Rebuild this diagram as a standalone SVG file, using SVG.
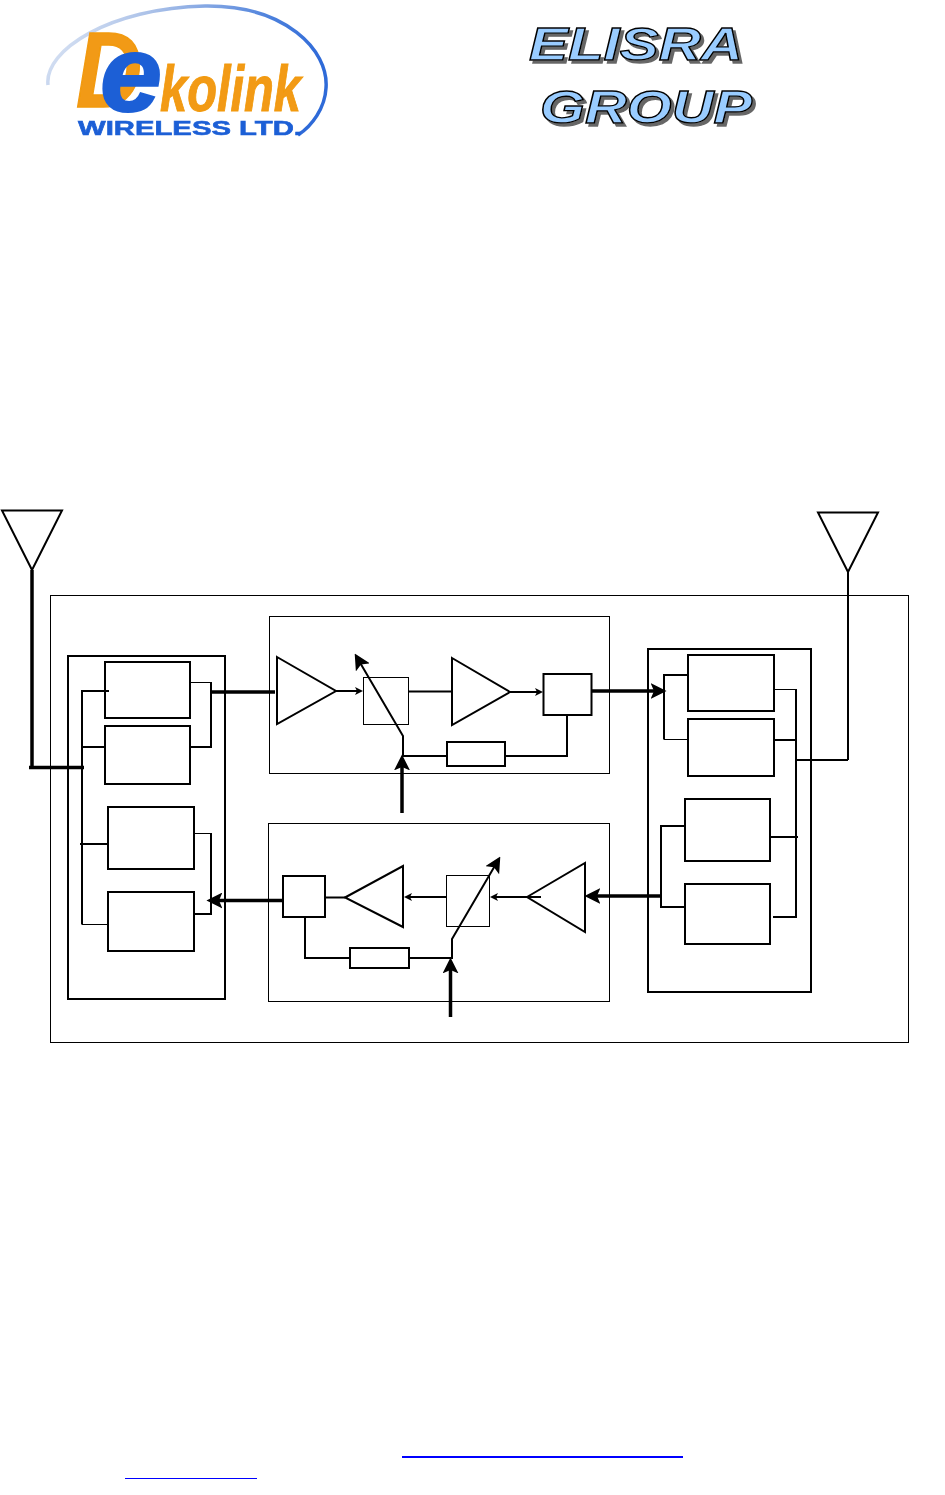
<svg xmlns="http://www.w3.org/2000/svg" width="945" height="1495" viewBox="0 0 945 1495">
<style>
.b1{fill:none;stroke:#000;stroke-width:1}
.b2{fill:none;stroke:#000;stroke-width:2}
.tri{fill:none;stroke:#000;stroke-width:2;stroke-linejoin:miter}
#connectors path{fill:none;stroke:#000;stroke-width:2}
#connectors .thin{stroke-width:1}
#connectors .thick{stroke-width:3.5}
.el{font-family:"Liberation Sans",Arial,sans-serif;font-weight:bold;font-style:italic;fill:#99ccff;stroke:#000;stroke-width:1.3;filter:url(#shadow)}
.dk{font-family:"Liberation Sans",Arial,sans-serif;font-weight:bold}
.or{fill:#f29a12;stroke:#f29a12}
.bl{fill:#1c5fd6;stroke:#1c5fd6}
.link{stroke:#0000ff;fill:none}
</style>
<defs>
<marker id="big" markerUnits="userSpaceOnUse" markerWidth="16" markerHeight="16" refX="10" refY="7" orient="auto" viewBox="0 0 14 14"><path d="M0,0 L14,7 L0,14 L3,7 Z" fill="#000"/></marker>
<marker id="small" markerUnits="userSpaceOnUse" markerWidth="8" markerHeight="8" refX="5" refY="4" orient="auto" viewBox="0 0 8 8"><path d="M0,0 L8,4 L0,8 L2,4 Z" fill="#000"/></marker>
<filter id="shadow" x="-10%" y="-20%" width="120%" height="150%"><feDropShadow dx="3" dy="3" stdDeviation="0.5" flood-color="#666"/></filter>
<filter id="soft" x="-5%" y="-5%" width="110%" height="110%"><feGaussianBlur stdDeviation="0.5"/></filter>
<linearGradient id="swoosh" x1="0" y1="0" x2="1" y2="0.35"><stop offset="0" stop-color="#eef2f8"/><stop offset="0.35" stop-color="#a9c0e8"/><stop offset="0.75" stop-color="#4a7fdc"/><stop offset="1" stop-color="#2f6ad8"/></linearGradient>
</defs>
<rect width="945" height="1495" fill="#fff"/>

<g id="logo-dekolink" filter="url(#soft)">
<path d="M48,85 C44,50 110,8 205,6 C285,5 329,50 326,88 C325,108 312,126 298,135" fill="none" stroke="url(#swoosh)" stroke-width="3.5"/>
<text class="dk or" x="76" y="107" font-size="107" font-style="italic" stroke-width="1.5" textLength="66" lengthAdjust="spacingAndGlyphs">D</text>
<text class="dk bl" x="100" y="111" font-size="108" font-style="italic" stroke-width="2" textLength="62" lengthAdjust="spacingAndGlyphs">e</text>
<text class="dk or" x="160" y="111" font-size="64" font-style="italic" stroke-width="1" textLength="141" lengthAdjust="spacingAndGlyphs">kolink</text>
<text class="dk bl" x="78" y="135" font-size="21" stroke-width="0.6" textLength="224" lengthAdjust="spacingAndGlyphs">WIRELESS LTD.</text>
</g>

<g id="logo-elisra">
<text class="el" x="529" y="60" font-size="47" textLength="214" lengthAdjust="spacingAndGlyphs">ELISRA</text>
<text class="el" x="540" y="123" font-size="47" textLength="212" lengthAdjust="spacingAndGlyphs">GROUP</text>
</g>

<rect id="enclosure" class="b1" x="50.5" y="595.5" width="858" height="447"/>

<g id="antenna-left"><path class="tri" d="M2,510.5 H62 L32,570 Z"/></g>
<g id="antenna-right"><path class="tri" d="M818,512.5 H878 L848,572 Z"/></g>

<g id="left-module">
<rect class="b2" x="68" y="656" width="157" height="343"/>
<rect class="b2" x="105" y="662" width="85" height="56"/>
<rect class="b2" x="105" y="726" width="85" height="58"/>
<rect class="b2" x="108" y="807" width="86" height="62"/>
<rect class="b2" x="108" y="892" width="86" height="59"/>
</g>

<g id="uplink-chain">
<rect class="b1" x="269.5" y="616.5" width="340" height="157"/>
<path class="tri" d="M277,657 L336,691 L277,724 Z"/>
<rect class="b1" x="363.5" y="677.5" width="45" height="47"/>
<path class="tri" d="M452,658 L510,692 L452,725 Z"/>
<rect class="b2" x="543.5" y="674" width="48" height="41"/>
<rect class="b2" x="447" y="742" width="58" height="24"/>
</g>

<g id="downlink-chain">
<rect class="b1" x="268.5" y="823.5" width="341" height="178"/>
<rect class="b2" x="283" y="876" width="42" height="41"/>
<path class="tri" d="M345,897.5 L403,866 L403,927 Z"/>
<rect class="b1" x="446.5" y="875.5" width="43" height="51"/>
<path class="tri" d="M527,897 L585,863 L585,932 Z"/>
<rect class="b2" x="350" y="948" width="59" height="20"/>
</g>

<g id="right-module">
<rect class="b2" x="648" y="649" width="163" height="343"/>
<rect class="b2" x="688" y="655" width="86" height="56"/>
<rect class="b2" x="688" y="719" width="86" height="57"/>
<rect class="b2" x="685" y="799" width="85" height="62"/>
<rect class="b2" x="685" y="884" width="85" height="60"/>
</g>

<g id="connectors">
<path class="thick" d="M32,570 V767"/>
<path class="thick" d="M29,767.5 H84"/>
<path d="M109,691 H82 V924.5"/>
<path d="M82,747 H105"/>
<path d="M80,844 H108"/>
<path class="thin" d="M82,924.5 H108"/>
<path class="thin" d="M190,682.5 H211"/>
<path d="M211,682 V747 H190"/>
<path class="thin" d="M194,833.5 H211"/>
<path d="M211,833 V914 H194"/>
<path class="thick" d="M211,692 H275"/>
<path class="thick" d="M284,900.5 H211" marker-end="url(#big)"/>

<path d="M336,691 H360" marker-end="url(#small)"/>
<path d="M408.5,691.5 H452"/>
<path d="M510,692 H540" marker-end="url(#small)"/>
<path class="thick" d="M591,691 H662" marker-end="url(#big)"/>
<path d="M567,715 V756 H505"/>
<path d="M447,756 H403 V736 L357,657.5" marker-end="url(#big)"/>
<path class="thick" d="M402,813 V759" marker-end="url(#big)"/>

<path d="M345,897.5 H325"/>
<path d="M446,897 H407" marker-end="url(#small)"/>
<path d="M541,897 H493" marker-end="url(#small)"/>
<path class="thick" d="M660,896 H589" marker-end="url(#big)"/>
<path d="M305,917 V958 H350"/>
<path d="M409,958 H452 V939 L498,860.4" marker-end="url(#big)"/>
<path class="thick" d="M450.5,1017 V962" marker-end="url(#big)"/>

<path d="M688,675 H664 V739.5"/>
<path class="thin" d="M664,739.5 H688"/>
<path d="M685,826 H661 V907 H685"/>
<path class="thin" d="M774,689.5 H796"/>
<path d="M796,689 V917 H773"/>
<path d="M774,740 H796"/>
<path d="M770,837 H798"/>
<path d="M796,760 H848"/>
<path d="M848,572 V760"/>
</g>

<g id="footer-links">
<path class="link" stroke-width="2" d="M402,1457 H683"/>
<path class="link" stroke-width="1" d="M125,1478.5 H257"/>
</g>
</svg>
